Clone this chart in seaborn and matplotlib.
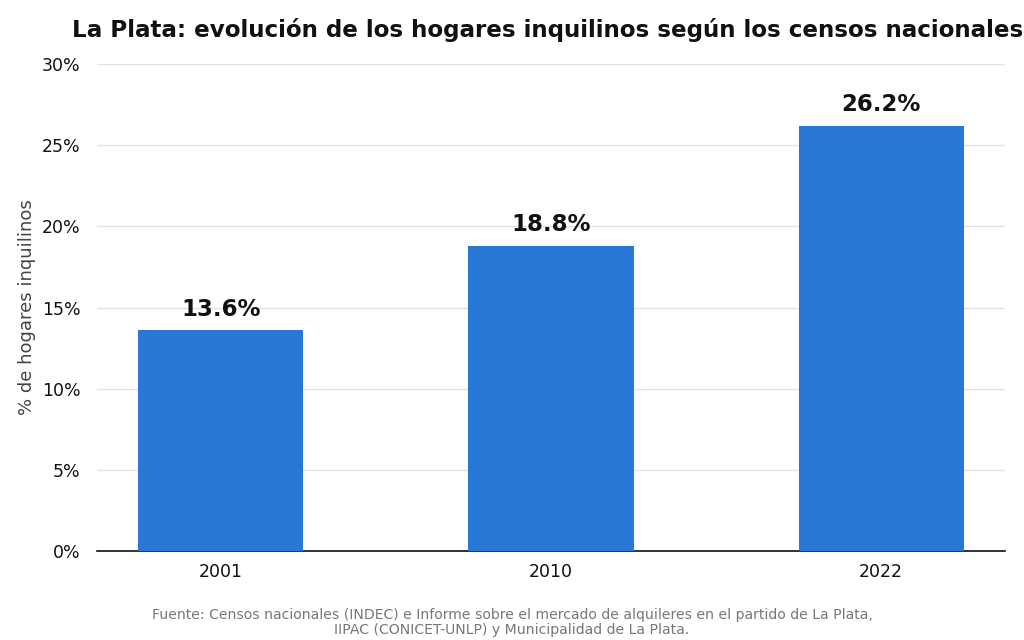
import matplotlib
matplotlib.use("Agg")
import matplotlib.pyplot as plt
import seaborn as sns
import pandas as pd
from matplotlib.ticker import PercentFormatter

# Census data
years = ["2001", "2010", "2022"]
pct_renters = [13.6, 18.8, 26.2]

df = pd.DataFrame({"Año": years, "Inquilinos": pct_renters})

sns.set_theme(style="white")
plt.rcParams["font.family"] = ["DejaVu Sans"]

fig = plt.figure(figsize=(10.24, 6.4), dpi=100)
ax = fig.add_axes([0.0947, 0.139, 0.8867, 0.761])

sns.barplot(data=df, x="Año", y="Inquilinos", color="#2a78d6", width=0.5,
            saturation=1, linewidth=0, ax=ax, zorder=3)

for i, v in enumerate(pct_renters):
    ax.text(i, v + 0.6, f"{v}%", ha="center", va="bottom",
            fontsize=16.5, fontweight="bold", color="#111111")

ax.set_ylim(0, 30)
ax.set_xlim(-0.375, 2.375)
ax.set_yticks([0, 5, 10, 15, 20, 25, 30])
ax.yaxis.set_major_formatter(PercentFormatter(decimals=0))
ax.grid(axis="y", color="#e6e4da", linewidth=1, zorder=0)
ax.set_axisbelow(True)

for s in ["top", "right", "left"]:
    ax.spines[s].set_visible(False)
ax.spines["bottom"].set_color("#111111")
ax.spines["bottom"].set_linewidth(1.2)

ax.tick_params(axis="x", length=5, width=1, color="#333333", labelsize=12.5, labelcolor="#111111")
ax.tick_params(axis="y", length=0, labelsize=12.5, pad=12, labelcolor="#111111")
ax.set_xlabel("")
ax.set_ylabel("% de hogares inquilinos", fontsize=13, color="#444444")

fig.text(0.0703, 0.953, "La Plata: evolución de los hogares inquilinos según los censos nacionales",
         ha="left", va="center", fontsize=16.6, fontweight="bold", color="#111111")

fig.text(0.5, 0.028,
         "Fuente: Censos nacionales (INDEC) e Informe sobre el mercado de alquileres en el partido de La Plata,\n"
         "IIPAC (CONICET-UNLP) y Municipalidad de La Plata.",
         ha="center", va="center", fontsize=10.1, color="#777777", linespacing=1.1)

fig.savefig("out.png", dpi=100)
